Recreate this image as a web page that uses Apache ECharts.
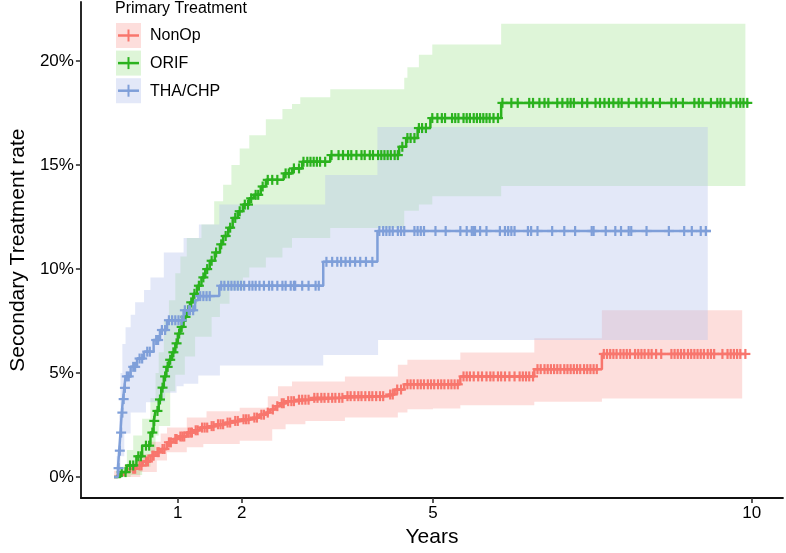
<!DOCTYPE html>
<html><head><meta charset="utf-8">
<script src="https://cdn.jsdelivr.net/npm/echarts@6/dist/echarts.min.js"></script>
<style>html,body{margin:0;padding:0;background:#fff}#c{width:786px;height:553px}</style>
</head><body><div id="c"></div>
<script>
const groups = ['NonOp', 'ORIF', 'THA/CHP'];
const xTicks = [1, 2, 5, 10];
const yTicks = [0, 5, 10, 15, 20];

// Step curves (years, %)
const nonopT = [0,0.05,0.16,0.25,0.36,0.45,0.57,0.65,0.73,0.83,0.93,1.0,1.14,1.25,1.35,1.5,1.6,1.75,1.86,2.0,2.17,2.28,2.38,2.45,2.53,2.6,2.69,2.85,3.10,3.62,4.29,4.40,4.55,5.43,6.59,7.65,9.9];
const nonopV = [0,0.1,0.24,0.4,0.56,0.75,1.03,1.2,1.35,1.67,1.83,1.95,2.14,2.25,2.38,2.45,2.54,2.62,2.70,2.78,2.86,3.0,3.10,3.25,3.41,3.55,3.65,3.72,3.81,3.89,3.97,4.21,4.46,4.84,5.19,5.92,5.92];
const orifT = [0,0.10,0.2,0.35,0.44,0.57,0.62,0.65,0.70,0.74,0.78,0.82,0.86,0.91,0.96,1.0,1.04,1.09,1.14,1.19,1.24,1.30,1.37,1.43,1.50,1.58,1.66,1.71,1.79,1.86,1.94,2.02,2.12,2.19,2.30,2.38,2.66,2.79,2.95,3.39,4.47,4.58,4.76,4.96,6.07,9.95];
const orifV = [0,0.24,0.56,1.0,1.51,2.14,2.7,3.18,3.73,4.3,4.84,5.3,5.64,6.0,6.43,6.9,7.22,7.7,8.02,8.4,8.81,9.2,9.6,10.0,10.4,10.8,11.19,11.59,11.99,12.46,12.78,13.1,13.4,13.57,13.97,14.29,14.6,14.84,15.16,15.48,15.88,16.3,16.78,17.26,17.99,17.99];
const thaT = [0,0.06,0.08,0.10,0.12,0.14,0.16,0.18,0.26,0.36,0.47,0.62,0.72,0.83,1.09,1.27,1.32,1.65,3.28,4.13,9.36];
const thaV = [0,0.43,1.27,2.14,3.1,3.75,4.29,4.84,5.3,5.7,6.03,6.59,7.07,7.54,8.02,8.5,8.7,9.2,10.35,11.83,11.83];

// Confidence bands (step boundaries)
const nonopHiT = [0,0.16,0.36,0.57,0.73,0.83,1.14,1.45,1.97,2.41,2.57,2.79,3.62,4.45,4.6,5.43,6.59,7.65,9.85];
const nonopHi  = [0.3,0.6,1.1,1.7,2.1,2.38,2.86,3.17,3.33,3.89,4.37,4.6,4.84,5.4,5.64,5.99,6.67,8.02,8.02];
const nonopLoT = [0,0.2,0.41,0.67,0.83,1.14,1.4,1.97,2.48,2.69,3.0,3.62,4.45,4.6,5.0,5.43,6.59,7.65,9.85];
const nonopLo  = [0,0,0.24,0.8,1.19,1.43,1.59,1.75,2.3,2.54,2.7,2.86,3.1,3.26,3.3,3.45,3.62,3.78,3.78];
const orifHiT = [0.08,0.2,0.3,0.44,0.57,0.65,0.7,0.78,0.86,0.96,1.04,1.14,1.37,1.57,1.71,1.84,1.97,2.12,2.38,2.64,2.79,2.92,3.39,4.55,4.6,4.78,4.99,6.07,9.9];
const orifHi  = [0.5,1.3,2.0,2.8,3.8,5.0,6.0,7.5,8.5,9.8,10.6,11.5,12.14,13.26,14.05,15.0,15.8,16.43,17.2,17.7,17.94,18.26,18.65,19.2,19.7,20.3,20.8,21.8,21.8];
const orifLoT = [0.08,0.26,0.44,0.57,0.65,0.7,0.88,0.96,1.11,1.27,1.53,1.66,1.81,2.02,2.12,2.38,2.64,2.79,3.39,4.55,4.78,4.99,6.07,9.9];
const orifLo  = [0,0.1,0.5,1.2,2.0,2.46,4.13,4.92,5.8,6.75,7.7,8.33,8.97,9.6,10.08,10.56,11.03,11.5,11.98,12.8,13.1,13.5,14.0,14.0];
const thaHiT = [0.04,0.08,0.1,0.13,0.18,0.26,0.33,0.47,0.57,0.78,1.09,1.33,1.65,3.31,4.13,9.31];
const thaHi  = [1.0,3.0,5.0,6.4,7.2,7.8,8.4,9.0,9.6,10.8,11.5,12.14,13.1,14.52,16.83,16.83];
const thaLoT = [0.04,0.1,0.16,0.26,0.5,0.8,0.98,1.09,1.32,1.66,3.28,4.14,9.31];
const thaLo  = [0,1.0,2.1,3.1,3.6,4.05,4.37,4.49,4.89,5.37,5.87,6.59,6.59];

// Censoring times (years)
const nonopCens = [0.3,0.33,0.4,0.43,0.5,0.53,0.6,0.62,0.68,0.7,0.76,0.79,0.86,0.89,0.96,0.98,1.04,1.07,1.1,1.17,1.2,1.22,1.28,1.31,1.38,1.42,1.46,1.53,1.56,1.63,1.67,1.71,1.78,1.82,1.9,1.94,2.03,2.07,2.11,2.2,2.24,2.31,2.35,2.41,2.49,2.56,2.63,2.66,2.73,2.78,2.82,2.9,2.95,3.0,3.05,3.14,3.19,3.25,3.3,3.36,3.42,3.47,3.53,3.58,3.66,3.71,3.77,3.83,3.88,3.94,4.0,4.05,4.11,4.17,4.22,4.33,4.37,4.44,4.5,4.6,4.65,4.7,4.76,4.81,4.86,4.92,4.97,5.02,5.08,5.13,5.18,5.24,5.29,5.34,5.39,5.48,5.53,5.58,5.64,5.71,5.77,5.84,5.9,5.95,6.02,6.07,6.13,6.2,6.28,6.36,6.41,6.46,6.51,6.57,6.64,6.69,6.75,6.8,6.85,6.9,6.95,7.0,7.06,7.11,7.16,7.21,7.26,7.31,7.37,7.42,7.47,7.52,7.57,7.68,7.73,7.78,7.83,7.88,7.94,7.99,8.04,8.09,8.17,8.22,8.27,8.32,8.38,8.43,8.5,8.58,8.74,8.79,8.84,8.89,8.94,9.0,9.05,9.1,9.15,9.2,9.25,9.31,9.36,9.41,9.54,9.62,9.67,9.72,9.77,9.82,9.9];
const orifCens = [0.12,0.18,0.25,0.3,0.38,0.42,0.5,0.55,0.6,0.63,0.68,0.72,0.76,0.8,0.84,0.88,0.93,0.98,1.02,1.06,1.12,1.16,1.21,1.26,1.33,1.4,1.46,1.53,1.6,1.68,1.75,1.82,1.9,1.97,2.05,2.1,2.15,2.22,2.26,2.33,2.41,2.48,2.56,2.69,2.74,2.82,2.9,2.97,3.03,3.08,3.13,3.18,3.23,3.31,3.41,3.52,3.59,3.67,3.72,3.8,3.88,3.93,4.01,4.06,4.14,4.19,4.24,4.29,4.34,4.4,4.45,4.52,4.6,4.65,4.71,4.78,4.83,4.89,4.99,5.07,5.14,5.19,5.3,5.35,5.4,5.48,5.53,5.58,5.64,5.69,5.74,5.79,5.84,5.89,5.95,6.02,6.09,6.23,6.33,6.51,6.57,6.67,6.75,6.81,6.95,7.03,7.11,7.16,7.21,7.34,7.42,7.55,7.62,7.69,7.76,7.83,7.91,7.96,8.07,8.19,8.27,8.35,8.45,8.56,8.74,8.81,8.92,9.1,9.17,9.23,9.36,9.46,9.51,9.57,9.67,9.76,9.82,9.87,9.93];
const thaCens = [0.07,0.09,0.11,0.13,0.15,0.17,0.2,0.23,0.3,0.33,0.4,0.44,0.52,0.56,0.66,0.69,0.75,0.8,0.86,0.91,0.96,1.01,1.06,1.11,1.17,1.19,1.24,1.35,1.4,1.45,1.5,1.68,1.73,1.79,1.84,1.89,1.94,1.99,2.04,2.12,2.17,2.22,2.28,2.35,2.43,2.48,2.56,2.64,2.69,2.77,2.82,2.84,2.95,3.05,3.16,3.21,3.33,3.42,3.5,3.56,3.63,3.7,3.78,3.86,3.95,4.05,4.16,4.22,4.27,4.32,4.37,4.45,4.5,4.55,4.71,4.76,4.81,4.86,5.04,5.2,5.43,5.53,5.61,5.64,5.66,5.74,5.84,6.05,6.13,6.18,6.23,6.28,6.49,6.54,6.64,6.87,7.06,7.23,7.49,7.52,7.71,7.86,7.95,8.07,8.11,8.35,8.7,8.94,9.06,9.2,9.28];

const lineColors = ['#F8766D', '#2BB21E', '#7F9FD9'];
const bandColors = ['rgba(248,118,109,0.24)', 'rgba(70,200,40,0.18)', 'rgba(185,197,237,0.4)'];
const FONT = '"Liberation Sans", Arial, Helvetica, sans-serif';

const curves = [
  {T: nonopT, V: nonopV, hiT: nonopHiT, hi: nonopHi, loT: nonopLoT, lo: nonopLo, cens: nonopCens},
  {T: orifT, V: orifV, hiT: orifHiT, hi: orifHi, loT: orifLoT, lo: orifLo, cens: orifCens},
  {T: thaT, V: thaV, hiT: thaHiT, hi: thaHi, loT: thaLoT, lo: thaLo, cens: thaCens}
];

function stepAt(T, V, t) {
  let v = V[0];
  for (let i = 0; i < T.length; i++) if (T[i] <= t) v = V[i];
  return v;
}

const series = [];
curves.forEach((c, gi) => {
  series.push({
    type: 'custom', name: groups[gi] + ' CI', silent: true, z: 1,
    data: [[c.hiT[0], c.hi[0]]],
    renderItem: function (params, api) {
      const pts = [];
      for (let i = 0; i < c.hiT.length; i++) {
        pts.push(api.coord([c.hiT[i], c.hi[i]]));
        if (i + 1 < c.hiT.length) pts.push(api.coord([c.hiT[i + 1], c.hi[i]]));
      }
      for (let i = c.loT.length - 1; i >= 0; i--) {
        if (i + 1 < c.loT.length) pts.push(api.coord([c.loT[i + 1], c.lo[i]]));
        pts.push(api.coord([c.loT[i], c.lo[i]]));
      }
      return {type: 'polygon', shape: {points: pts}, style: {fill: bandColors[gi], stroke: null}};
    }
  });
});
curves.forEach((c, gi) => {
  series.push({
    type: 'line', name: groups[gi], step: 'end', showSymbol: false, z: 3 + gi * 2,
    data: c.T.map((t, i) => [t, c.V[i]]),
    lineStyle: {color: lineColors[gi], width: 2.5},
    itemStyle: {color: lineColors[gi]}, silent: true
  });
  series.push({
    type: 'custom', name: groups[gi] + ' censored', silent: true, z: 4 + gi * 2,
    data: c.cens.map(t => [t, stepAt(c.T, c.V, t)]),
    renderItem: function (params, api) {
      const p = api.coord([api.value(0), api.value(1)]);
      const h = 5, st = {stroke: lineColors[gi], lineWidth: 2.2};
      return {type: 'group', children: [
        {type: 'line', shape: {x1: p[0] - h, y1: p[1], x2: p[0] + h, y2: p[1]}, style: st},
        {type: 'line', shape: {x1: p[0], y1: p[1] - h, x2: p[0], y2: p[1] + h}, style: st}
      ]};
    }
  });
});

// Legend drawn as graphic elements
const legendEls = [{type: 'text', left: 115, top: 1, style: {text: 'Primary Treatment', font: '16px ' + FONT, fill: '#000'}}];
groups.forEach((g, gi) => {
  const y0 = 23 + gi * 27.6;
  legendEls.push({type: 'rect', shape: {x: 116, y: y0, width: 25, height: 25}, style: {fill: bandColors[gi]}});
  legendEls.push({type: 'line', shape: {x1: 118, y1: y0 + 12.5, x2: 139, y2: y0 + 12.5}, style: {stroke: lineColors[gi], lineWidth: 2.5}});
  legendEls.push({type: 'line', shape: {x1: 128.5, y1: y0 + 6.5, x2: 128.5, y2: y0 + 18.5}, style: {stroke: lineColors[gi], lineWidth: 2}});
  legendEls.push({type: 'text', x: 150, y: y0 + 13, style: {text: g, font: '16px ' + FONT, fill: '#000', verticalAlign: 'middle'}});
});

const chart = echarts.init(document.getElementById('c'), null, {renderer: 'canvas'});
chart.setOption({
  animation: false,
  backgroundColor: '#fff',
  textStyle: {fontFamily: FONT},
  grid: {left: 73, right: 3, top: 2, bottom: 50, containLabel: false},
  xAxis: {
    type: 'value', min: -0.52, max: 10.49,
    name: 'Years', nameLocation: 'middle', nameGap: 27,
    nameTextStyle: {fontSize: 21, color: '#000', fontFamily: FONT},
    axisLine: {show: true, onZero: false, lineStyle: {color: '#111', width: 1.8}},
    axisTick: {show: true, length: 5, customValues: xTicks, lineStyle: {color: '#333', width: 1.6}},
    axisLabel: {customValues: xTicks, fontSize: 17, color: '#000', margin: 7, fontFamily: FONT},
    splitLine: {show: false}
  },
  yAxis: {
    type: 'value', min: -1.01, max: 22.84,
    name: 'Secondary Treatment rate', nameLocation: 'middle', nameGap: 51,
    nameTextStyle: {fontSize: 21, color: '#000', fontFamily: FONT},
    axisLine: {show: true, onZero: false, lineStyle: {color: '#111', width: 1.8}},
    axisTick: {show: true, length: 5, customValues: yTicks, lineStyle: {color: '#333', width: 1.6}},
    axisLabel: {customValues: yTicks, fontSize: 17, color: '#000', margin: 7, fontFamily: FONT, formatter: v => v + '%'},
    splitLine: {show: false}
  },
  graphic: legendEls,
  series: series
});
</script></body></html>
